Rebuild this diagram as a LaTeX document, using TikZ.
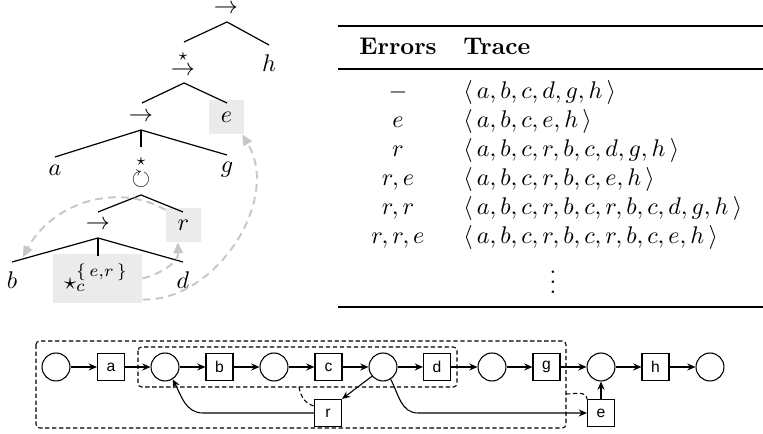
\documentclass[tikz,border=0pt]{standalone}
\usepackage{amsmath,amssymb}
\usepackage{fontspec}
\newfontfamily\arialfont{Liberation Sans}
\usetikzlibrary{arrows.meta,calc}
\begin{document}
\begin{tikzpicture}[x=0.415pt,y=-0.415pt,
  lbl/.style={inner sep=0pt},
  tline/.style={line width=0.5pt,black},
  hl/.style={fill=black!8,inner sep=0pt},
  ghost/.style={draw=black!22,line width=0.8pt,dash pattern=on 3.2pt off 2.2pt,
     -{Triangle[length=4.5pt,width=4pt]}},
  place/.style={circle,draw,line width=0.45pt,minimum size=11.6pt,inner sep=0pt},
  trans/.style={rectangle,draw,line width=0.45pt,minimum size=11.2pt,inner sep=0pt,
     font=\arialfont\fontsize{6.5}{7}\selectfont},
  arc/.style={line width=0.45pt,-{Stealth[length=3.4pt,width=2.9pt]}},
  dbox/.style={line width=0.45pt,dash pattern=on 1.8pt off 1.1pt,rounded corners=1.5pt},
  rule/.style={line width=#1}]
\useasboundingbox (0,0) rectangle (763,434);

% ---------------- process tree ----------------
\node[lbl] (op1) at (226,9) {$\rightarrow$};
\node[lbl] (h) at (269,63) {$h$};
\node[lbl] (st2) at (183,57) {$\scriptstyle\star$};
\node[lbl] (op2) at (183,71) {$\rightarrow$};
\node[hl,minimum width=14.5pt,minimum height=14.1pt] (ebox) at (226.5,117) {$e$};
\node[lbl] (op3) at (141,117) {$\rightarrow$};
\node[lbl] (a) at (55,170) {$a$};
\node[lbl] (g) at (227,170) {$g$};
\node[lbl] (st4) at (141,162) {$\scriptstyle\star$};
\node[lbl] (op4) at (141,179) {$\circlearrowright$};
\node[hl,minimum width=14.5pt,minimum height=14.1pt] (rbox) at (183.5,225) {$r$};
\node[lbl] (op5) at (98,225) {$\rightarrow$};
\node[lbl] (b) at (12,280) {$b$};
\node[lbl] (d) at (183,280) {$d$};
\node[hl,minimum width=37pt,minimum height=20.3pt] (sbox) at (97.5,278.5) {};
\node[lbl] (stc) at (96,278) {$\star_c^{\{\,e,r\,\}}$};

\coordinate (t1a) at (227,22);  \coordinate (t1l) at (184,42);  \coordinate (t1r) at (269,45);
\coordinate (t2a) at (184,83);  \coordinate (t2l) at (142,103); \coordinate (t2r) at (227,103);
\coordinate (t3a) at (141,130); \coordinate (t3l) at (55,157);  \coordinate (t3r) at (227,155);
\coordinate (t3m) at (141,147);
\coordinate (t4a) at (141,195); \coordinate (t4l) at (98,212);  \coordinate (t4r) at (183,212);
\coordinate (t5a) at (98,238);  \coordinate (t5l) at (12,262);  \coordinate (t5r) at (183,262);
\coordinate (t5m) at (98,256);
\coordinate (barr) at (23,257);

\draw[tline] (t1l) -- (t1a) -- (t1r);
\draw[tline] (t2l) -- (t2a) -- (t2r);
\draw[tline] (t3l) -- (t3a) -- (t3r);
\draw[tline] (t3a) -- (t3m);
\draw[tline] (t4l) -- (t4a) -- (t4r);
\draw[tline] (t5l) -- (t5a) -- (t5r);
\draw[tline] (t5a) -- (t5m);

\draw[ghost] (sbox.east) to[out=15,in=-88] (rbox.-108);
\draw[ghost] (rbox.140) to[out=150,in=62,looseness=1.0] (barr);
\draw[ghost] (sbox.-25) .. controls (215,302) and (282,200) .. (ebox.-48);

% ---------------- table ----------------
\draw[rule=0.8pt] (338,26) -- (763,26);
\draw[rule=0.5pt] (338,69) -- (763,69);
\draw[rule=0.8pt] (338,307) -- (763,307);
\node[lbl,anchor=base] (herr) at (398,55) {\textbf{Errors}};
\node[lbl,anchor=base west] (htr) at (463,55) {\textbf{Trace}};

\node[lbl,anchor=base] (e1) at (398,99)  {$-$};
\node[lbl,anchor=base] (e2) at (398,128) {$e$};
\node[lbl,anchor=base] (e3) at (398,157) {$r$};
\node[lbl,anchor=base] (e4) at (398,186) {$r,e$};
\node[lbl,anchor=base] (e5) at (398,215) {$r,r$};
\node[lbl,anchor=base] (e6) at (398,244) {$r,r,e$};

\node[lbl,anchor=base west] (r1) at (463,99)  {$\langle\, a,b,c,d,g,h\,\rangle$};
\node[lbl,anchor=base west] (r2) at (463,128) {$\langle\, a,b,c,e,h\,\rangle$};
\node[lbl,anchor=base west] (r3) at (463,157) {$\langle\, a,b,c,r,b,c,d,g,h\,\rangle$};
\node[lbl,anchor=base west] (r4) at (463,186) {$\langle\, a,b,c,r,b,c,e,h\,\rangle$};
\node[lbl,anchor=base west] (r5) at (463,215) {$\langle\, a,b,c,r,b,c,r,b,c,d,g,h\,\rangle$};
\node[lbl,anchor=base west] (r6) at (463,244) {$\langle\, a,b,c,r,b,c,r,b,c,e,h\,\rangle$};
\node[lbl] (vd) at (553,275) {$\vdots$};

% ---------------- Petri net ----------------
\draw[dbox] (36,341) rectangle (566,428);
\draw[dbox] (138,347) rectangle (457,387);

\node[place] (p1) at (56,367) {};
\node[trans] (ta) at (111,367) {a};
\node[place] (p2) at (165,367) {};
\node[trans] (tb) at (219.5,367) {b};
\node[place] (p3) at (274,367) {};
\node[trans] (tc) at (328.5,367) {c};
\node[place] (p4) at (383,367) {};
\node[trans] (td) at (437,367) {d};
\node[place] (p5) at (492,367) {};
\node[trans] (tg) at (546.5,367) {g};
\node[place] (p6) at (601,367) {};
\node[trans] (th) at (655.5,367) {h};
\node[place] (p7) at (710,367) {};
\node[trans] (tr) at (328,413) {r};
\node[trans] (te) at (601,413) {e};

\draw[arc] (p1) -- (ta);
\draw[arc] (ta) -- (p2);
\draw[arc] (p2) -- (tb);
\draw[arc] (tb) -- (p3);
\draw[arc] (p3) -- (tc);
\draw[arc] (tc) -- (p4);
\draw[arc] (p4) -- (td);
\draw[arc] (td) -- (p5);
\draw[arc] (p5) -- (tg);
\draw[arc] (tg) -- (p6);
\draw[arc] (p6) -- (th);
\draw[arc] (th) -- (p7);
\draw[arc] (te) -- (p6);
\draw[arc] (p4.-140) -- (tr.north east);

\coordinate (k1) at (203,413);
\coordinate (k2) at (418,413);
\draw[arc] (tr.west) -- (k1) to[out=180,in=-62] (p2.-58);
\draw[arc] (p4.-58) to[out=-62,in=180] (k2) -- (te.west);

\coordinate (dr) at (299,387);
\coordinate (de) at (566,394);
\draw[dbox] (dr) to[out=-80,in=165] ($(tr.north west)+(0,7)$);
\draw[dbox] (de) to[out=0,in=95] (te.north west);
\end{tikzpicture}
\end{document}
